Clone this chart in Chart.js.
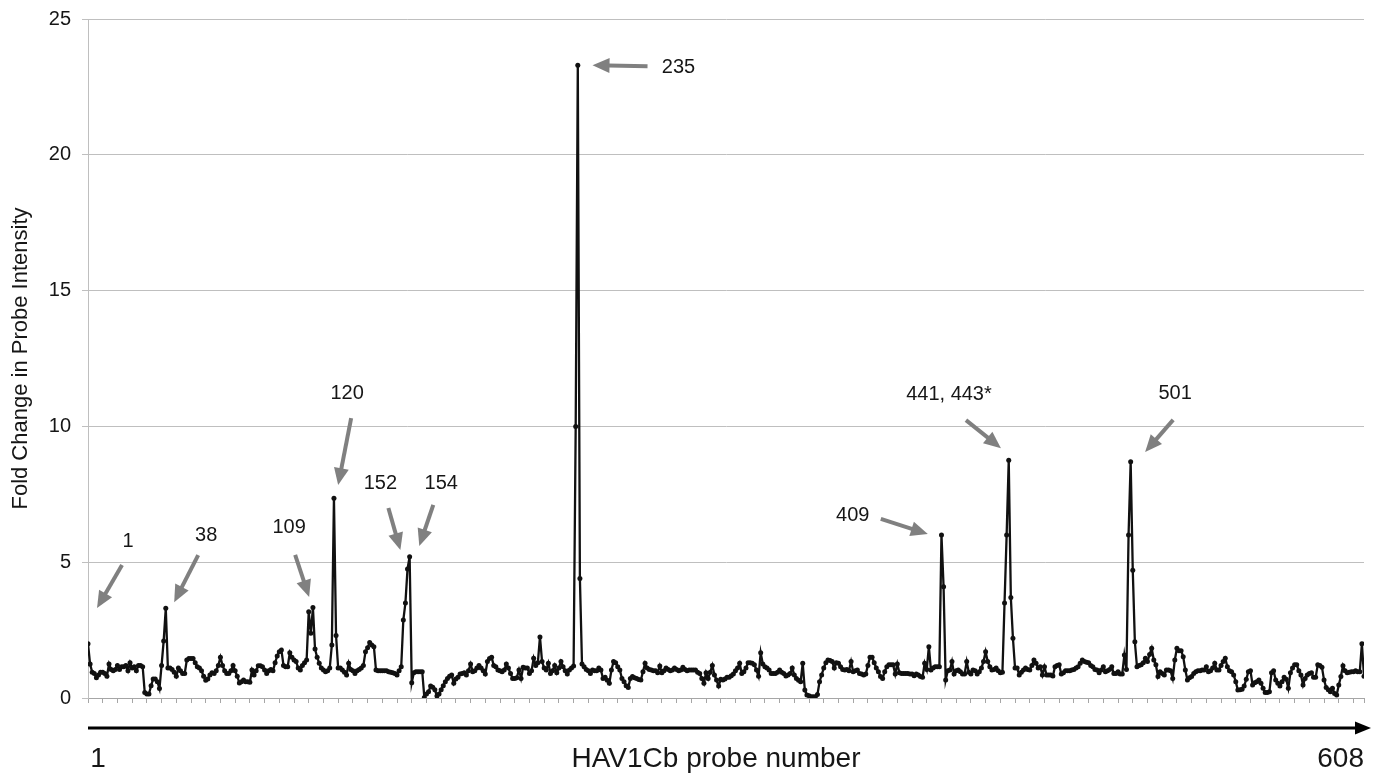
<!DOCTYPE html>
<html>
<head>
<meta charset="utf-8">
<script src="https://cdn.jsdelivr.net/npm/chart.js@4"></script>
<style>
	html, body { margin: 0; padding: 0; background: #fff; }
	#chart { display: block; }
</style>
</head>
<body>
<canvas id="chart" width="1377" height="773"></canvas>
<script>
// fold change per probe, probes 1..608
const fold = [
	2.0, 1.25, 0.95, 0.9, 0.75, 0.85, 0.95, 0.95, 0.9, 0.8,
	1.25, 1.05, 1.0, 1.05, 1.2, 1.05, 1.15, 1.15, 1.2, 1.0,
	1.3, 1.1, 1.15, 1.0, 1.2, 1.2, 1.15, 0.2, 0.15, 0.15,
	0.45, 0.7, 0.7, 0.6, 0.35, 1.2, 2.1, 3.3, 1.1, 1.1,
	1.05, 0.95, 0.8, 1.1, 1.0, 0.9, 0.9, 1.4, 1.45, 1.45,
	1.45, 1.3, 1.15, 1.1, 1.0, 0.8, 0.65, 0.7, 0.85, 0.93,
	0.9, 1.0, 1.2, 1.5, 1.2, 1.0, 0.9, 0.9, 1.0, 1.2,
	1.0, 0.8, 0.55, 0.6, 0.66, 0.6, 0.6, 0.58, 1.03, 0.85,
	1.0, 1.19, 1.19, 1.15, 1.03, 0.9, 1.0, 1.05, 1.0, 1.3,
	1.55, 1.7, 1.77, 1.2, 1.15, 1.15, 1.67, 1.5, 1.4, 1.34,
	1.1, 1.03, 1.2, 1.3, 1.4, 3.18, 2.38, 3.33, 1.8, 1.5,
	1.28, 1.1, 1.03, 0.97, 1.0, 1.1, 1.95, 7.35, 2.3, 1.1,
	1.1, 1.03, 0.95, 0.85, 1.28, 1.05, 1.0, 0.9, 1.0, 1.05,
	1.1, 1.2, 1.7, 1.85, 2.04, 1.95, 1.89, 1.03, 1.0, 1.0,
	1.0, 1.0, 1.0, 0.97, 0.95, 0.93, 0.9, 0.85, 1.0, 1.15,
	2.87, 3.5, 4.75, 5.2, 0.56, 0.93, 0.97, 0.97, 0.97, 0.97,
	0.02, 0.15, 0.23, 0.44, 0.4, 0.3, 0.07, 0.15, 0.3, 0.45,
	0.6, 0.72, 0.8, 0.85, 0.54, 0.7, 0.76, 0.88, 0.9, 0.93,
	0.85, 1.0, 1.25, 0.97, 1.0, 1.1, 1.2, 1.1, 1.0, 0.88,
	1.34, 1.45, 1.5, 1.2, 1.15, 1.03, 1.0, 0.97, 1.03, 1.25,
	1.1, 0.9, 0.72, 0.72, 0.75, 1.03, 0.72, 1.13, 1.1, 1.1,
	0.9, 1.0, 1.46, 1.2, 1.3, 2.25, 1.34, 1.1, 1.03, 1.28,
	0.9, 1.0, 1.2, 0.93, 1.1, 1.34, 1.15, 1.0, 0.88, 1.03,
	1.1, 1.18, 10.0, 23.3, 4.4, 1.25, 1.15, 1.05, 1.0, 0.9,
	1.03, 1.0, 1.0, 1.1, 1.03, 0.72, 0.76, 0.65, 0.54, 1.03,
	1.34, 1.3, 1.15, 1.03, 0.72, 0.6, 0.45, 0.39, 0.72, 0.79,
	0.75, 0.72, 0.68, 0.66, 0.97, 1.28, 1.1, 1.05, 1.03, 1.0,
	1.0, 0.93, 1.18, 0.93, 1.0, 1.1, 1.05, 1.0, 1.03, 1.1,
	1.05, 1.0, 1.03, 1.13, 1.05, 1.0, 1.03, 1.03, 1.03, 1.03,
	0.95, 0.9, 0.72, 0.54, 0.93, 0.72, 0.95, 1.2, 0.85, 0.66,
	0.44, 0.69, 0.66, 0.7, 0.76, 0.76, 0.82, 0.88, 1.0, 1.1,
	1.28, 0.9, 0.97, 1.1, 1.3, 1.3, 1.28, 1.22, 1.03, 0.8,
	1.67, 1.25, 1.15, 1.1, 1.03, 0.9, 0.9, 0.9, 0.95, 1.03,
	0.95, 0.9, 0.81, 0.85, 0.9, 1.1, 0.85, 0.72, 0.65, 0.6,
	1.28, 0.29, 0.11, 0.08, 0.05, 0.05, 0.05, 0.13, 0.6, 0.85,
	1.1, 1.3, 1.4, 1.38, 1.34, 1.1, 1.3, 1.28, 1.15, 1.05,
	1.03, 1.05, 1.0, 1.34, 0.97, 1.0, 1.03, 0.9, 0.88, 0.85,
	0.88, 1.2, 1.5, 1.5, 1.3, 1.1, 0.97, 0.79, 0.72, 0.97,
	1.15, 1.22, 1.22, 1.22, 0.88, 1.25, 0.93, 0.9, 0.9, 0.9,
	0.9, 0.88, 0.88, 0.82, 0.88, 0.85, 0.79, 0.76, 1.28, 1.05,
	1.89, 1.03, 1.1, 1.15, 1.15, 1.15, 6.0, 4.1, 0.66, 1.0,
	1.03, 1.34, 0.88, 1.0, 1.03, 0.97, 0.88, 0.88, 1.34, 0.95,
	0.88, 1.03, 1.0, 0.88, 0.97, 1.1, 1.34, 1.7, 1.34, 1.15,
	1.03, 1.05, 1.1, 1.0, 0.93, 0.95, 3.5, 6.0, 8.75, 3.7,
	2.2, 1.1, 1.1, 0.85, 0.95, 1.03, 1.1, 1.05, 1.03, 1.2,
	1.4, 1.28, 1.1, 1.15, 0.85, 1.15, 0.85, 0.85, 0.85, 0.81,
	1.15, 1.2, 1.22, 0.88, 0.93, 1.0, 1.0, 1.0, 1.03, 1.05,
	1.1, 1.15, 1.28, 1.4, 1.34, 1.32, 1.3, 1.2, 1.15, 1.05,
	1.03, 0.93, 1.03, 1.15, 0.97, 1.0, 1.05, 1.15, 0.9, 0.9,
	0.97, 0.88, 0.88, 1.58, 1.05, 6.0, 8.7, 4.7, 2.07, 1.15,
	1.2, 1.22, 1.3, 1.46, 1.34, 1.6, 1.83, 1.4, 1.22, 0.79,
	0.97, 0.9, 0.85, 1.03, 1.03, 1.0, 0.72, 1.4, 1.83, 1.74,
	1.74, 1.52, 1.03, 0.66, 0.75, 0.79, 0.9, 0.97, 1.0, 1.0,
	1.03, 1.03, 1.15, 0.97, 1.0, 1.1, 1.28, 1.03, 1.03, 1.2,
	1.34, 1.46, 1.15, 1.0, 0.97, 0.85, 0.6, 0.29, 0.3, 0.32,
	0.44, 0.69, 0.97, 1.0, 0.48, 0.56, 0.6, 0.66, 0.54, 0.36,
	0.2, 0.2, 0.23, 0.93, 1.0, 0.66, 0.54, 0.44, 0.6, 0.76,
	0.69, 0.36, 0.93, 1.1, 1.22, 1.22, 1.0, 0.85, 0.48, 0.72,
	0.85, 0.9, 0.93, 0.76, 0.76, 1.22, 1.2, 1.13, 0.66, 0.39,
	0.3, 0.23, 0.36, 0.17, 0.11, 0.48, 0.79, 1.19, 1.0, 0.93,
	0.95, 0.97, 0.97, 1.0, 0.97, 0.97, 2.0, 0.8
];
const firstProbe = 1;
const lastProbe = 608;
const probes = fold.map((v, i) => firstProbe + i);

const yTicks = [0, 5, 10, 15, 20, 25];
const xTickEvery = 7;

// callouts: text, probe the arrow points at, fold value it points at
const calloutText = ['1', '38', '109', '120', '152', '154', '235', '409', '441, 443*', '501'];
const calloutProbe = [5.3, 42, 106.2, 120, 149.6, 158.6, 241, 400.5, 435.3, 503.9];
const calloutFold = [3.31, 3.53, 3.72, 7.84, 5.45, 5.6, 23.3, 6.04, 9.2, 9.06];

// pixel offsets from arrow tip (style, not data)
const tailOffset = [[25, -43], [24, -47], [-14, -42], [13, -67], [-12, -42], [14, -41], [55, 1], [-47, -15], [-35, -28], [28, -32]];
const textOffset = [[31, -67], [32, -67], [-20, -69], [9, -92], [-20, -66], [22, -62], [86, 2], [-75, -18], [-52, -54], [30, -58]];

const FONT = '"Liberation Sans", Arial, Helvetica, sans-serif';
const INK = '#161616';
const ARROW_GREY = '#808080';

function draw_arrow(ctx, x1, y1, x2, y2, width, head_len, head_w, color) {
	let dx = x2 - x1, dy = y2 - y1;
	let len = Math.sqrt(dx * dx + dy * dy);
	let ux = dx / len, uy = dy / len;
	let bx = x2 - ux * head_len, by = y2 - uy * head_len;
	ctx.save();
	ctx.strokeStyle = color;
	ctx.fillStyle = color;
	ctx.lineWidth = width;
	ctx.beginPath();
	ctx.moveTo(x1, y1);
	ctx.lineTo(bx + ux * 1, by + uy * 1);
	ctx.stroke();
	ctx.beginPath();
	ctx.moveTo(x2, y2);
	ctx.lineTo(bx - uy * head_w / 2, by + ux * head_w / 2);
	ctx.lineTo(bx + uy * head_w / 2, by - ux * head_w / 2);
	ctx.closePath();
	ctx.fill();
	ctx.restore();
}

const callouts = {
	id: 'callouts',
	afterDatasetsDraw(chart) {
		let ctx = chart.ctx,
				xs = chart.scales.x,
				ys = chart.scales.y;
		ctx.save();
		ctx.font = '20px ' + FONT;
		ctx.textAlign = 'center';
		ctx.textBaseline = 'middle';
		for (let i = 0; i < calloutText.length; i ++) {
			let tx = xs.getPixelForValue(calloutProbe[i]),
					ty = ys.getPixelForValue(calloutFold[i]);
			draw_arrow(ctx, tx + tailOffset[i][0], ty + tailOffset[i][1], tx, ty, 4, 17, 15, ARROW_GREY);
			ctx.fillStyle = INK;
			ctx.fillText(calloutText[i], tx + textOffset[i][0], ty + textOffset[i][1]);
		}
		ctx.restore();
	}
};

const probeAxis = {
	id: 'probeAxis',
	afterDraw(chart) {
		let ctx = chart.ctx,
				area = chart.chartArea,
				y = 728;
		draw_arrow(ctx, area.left, y, 1371, y, 3, 16, 13, '#000');
		ctx.save();
		ctx.font = '28px ' + FONT;
		ctx.fillStyle = INK;
		ctx.textBaseline = 'alphabetic';
		ctx.textAlign = 'center';
		ctx.fillText(String(firstProbe), 98, 767);
		ctx.fillText('HAV1Cb probe number', 716, 767);
		ctx.textAlign = 'right';
		ctx.fillText(String(lastProbe), 1364, 767);
		ctx.restore();
	}
};

let xTicks = [];
for (let p = firstProbe; p <= lastProbe; p += xTickEvery) xTicks.push(p);
xTicks.push(lastProbe);

new Chart(document.getElementById('chart'), {
	type: 'line',
	data: {
		datasets: [{
			data: fold.map((v, i) => ({ x: probes[i], y: v })),
			borderColor: '#111',
			borderWidth: 2.3,
			pointRadius: 2.5,
			pointBackgroundColor: '#111',
			pointBorderWidth: 0,
			tension: 0
		}]
	},
	options: {
		responsive: false,
		animation: false,
		devicePixelRatio: 1,
		layout: { padding: { left: 0, right: 13, top: 19, bottom: 0 } },
		plugins: {
			legend: { display: false },
			tooltip: { enabled: false }
		},
		scales: {
			x: {
				type: 'linear',
				min: firstProbe,
				max: lastProbe,
				afterBuildTicks: (scale) => { scale.ticks = xTicks.map(v => ({ value: v })); },
				afterFit: (scale) => { scale.height = 75; },
				ticks: { display: false },
				grid: { drawOnChartArea: false, drawTicks: true, tickLength: 5, color: '#a6a6a6' },
				border: { color: '#a6a6a6' }
			},
			y: {
				min: 0,
				max: 25,
				afterBuildTicks: (scale) => { scale.ticks = yTicks.map(v => ({ value: v })); },
				afterFit: (scale) => {
					scale.width = 88;
					scale.paddingTop = 0;
					scale.paddingBottom = 0;
				},
				ticks: { font: { family: FONT, size: 20 }, color: INK, padding: 11 },
				grid: { color: '#bfbfbf', tickLength: 6 },
				border: { color: '#bfbfbf' },
				title: {
					display: true,
					text: 'Fold Change in Probe Intensity',
					font: { family: FONT, size: 22 },
					color: INK,
					padding: { top: 8, bottom: 0 }
				}
			}
		}
	},
	plugins: [callouts, probeAxis]
});
</script>
</body>
</html>
